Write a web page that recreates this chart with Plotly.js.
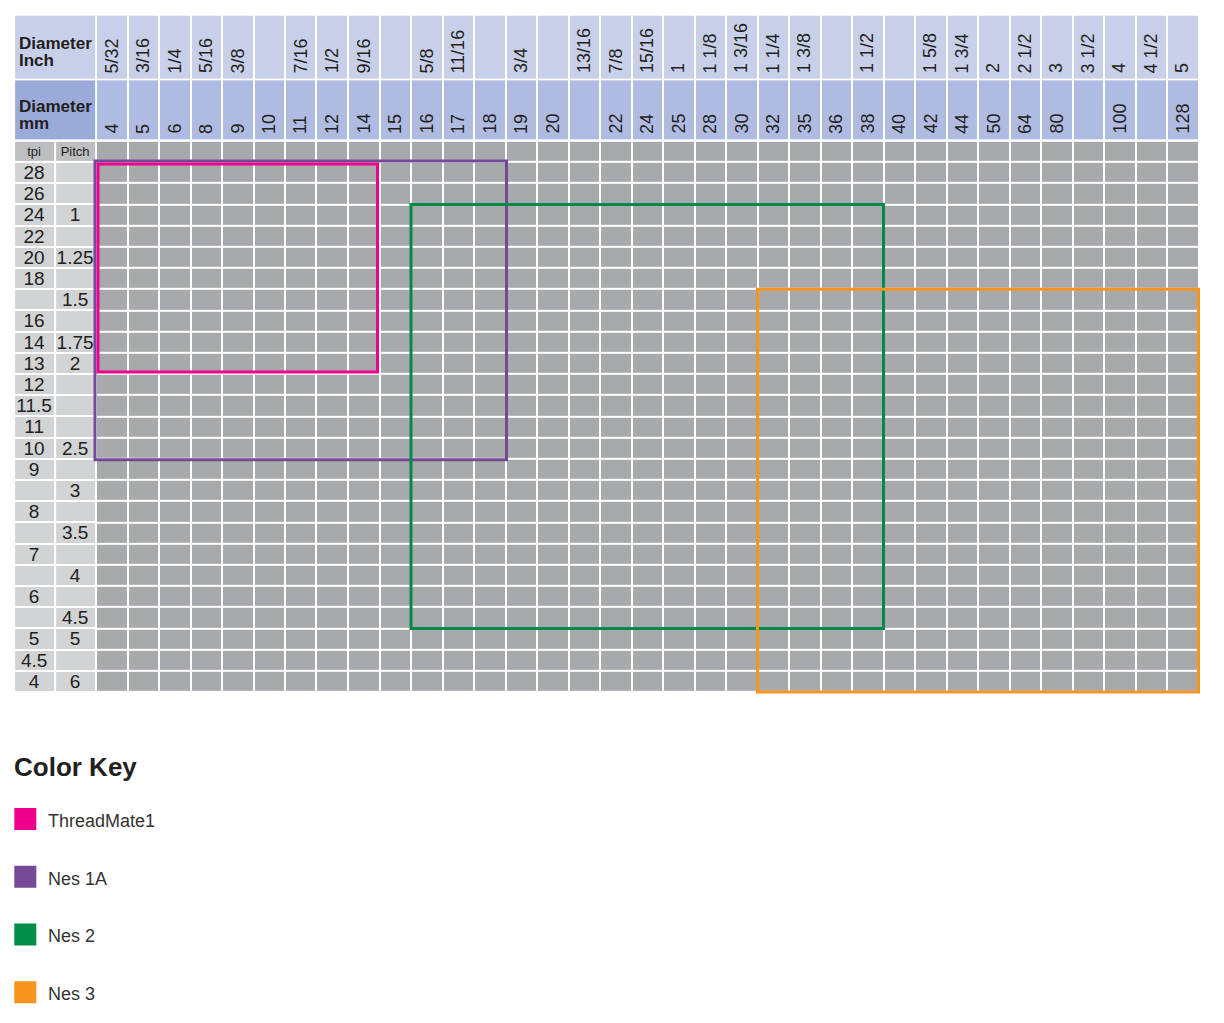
<!DOCTYPE html>
<html>
<head>
<meta charset="utf-8">
<script src="https://cdn.plot.ly/plotly-3.0.1.min.js"></script>
<style>body{margin:0;background:#fff}</style>
</head>
<body>
<div id="chart" style="width:1224px;height:1023px"></div>
<script>
// column headers: diameter in inch and mm ("" = no size in that unit)
const inchLabels = ["5/32","3/16","1/4","5/16","3/8","","7/16","1/2","9/16","","5/8","11/16","","3/4","","13/16","7/8","15/16","1","1 1/8","1 3/16","1 1/4","1 3/8","","1 1/2","","1 5/8","1 3/4","2","2 1/2","3","3 1/2","4","4 1/2","5"];
const mmLabels = ["4","5","6","8","9","10","11","12","14","15","16","17","18","19","20","","22","24","25","28","30","32","35","36","38","40","42","44","50","64","80","","100","","128"];

// rows: threads per inch and metric pitch
const tpiLabels = ["28","26","24","22","20","18","","16","14","13","12","11.5","11","10","9","","8","","7","","6","","5","4.5","4"];
const pitchLabels = ["","","1","","1.25","","1.5","","1.75","2","","","","2.5","","3","","3.5","","4","","4.5","5","","6"];

// range of each tool: first/last mm column and first/last row
const tools = ["ThreadMate1","Nes 1A","Nes 2","Nes 3"];
const toolColors = ["#ec008c","#744a96","#008c48","#f7941d"];
const mmFrom = ["4","4","16","32"];
const mmTo = ["14","18","38","128"];
const rowFrom = ["tpi 28","tpi 28","tpi 24","pitch 1.5"];
const rowTo = ["tpi 13","tpi 10","pitch 4.5","tpi 4"];

// ---- geometry / style ----
const W = 1224, H = 1023;
const colPx = 31.5, rowPx = 21.2;      // size of one grid cell
const gridLeft = 96, gridTop = 162;     // pixel of the first data cell corner
const xr = [-2.6, 35.15], yr = [25.2, -6.95];
const sideEdges = [-2.6, -1.3, 0];
const headEdges = [-6.95, -3.9, -1];
const insetPx = [2, -1, 0, 0];
const font = "Liberation Sans, Arial, sans-serif";
const ink = "#231f20";
const col = {cell:"#a7a9ac", side:"#d1d3d4", head:"#bcbec0", inch:"#c8cfe9", mm:"#afbbe1", mmHead:"#9aaad9"};

const nCols = mmLabels.length, nRows = tpiLabels.length;
const colEdges = Array.from({length: nCols + 1}, (_, i) => i);
const rowEdges = Array.from({length: nRows + 1}, (_, i) => i);

function block(x, y, color, text, size){
  let z = [];
  for (let r = 0; r < y.length - 1; r++) z.push(new Array(x.length - 1).fill(0));
  let t = {type:"heatmap", x:x, y:y, z:z, colorscale:[[0,color],[1,color]],
    showscale:false, xgap:2, ygap:2, hoverinfo:"skip"};
  if (text){
    t.text = text;
    t.texttemplate = "%{text}";
    t.textfont = {family:font, size:size, color:ink};
  }
  return t;
}

function rowIndex(key){
  let p = key.split(" ");
  return (p[0] === "tpi" ? tpiLabels : pitchLabels).indexOf(p[1]);
}

let data = [
  block([-2.6, 0], [headEdges[0], headEdges[1]], col.inch),
  block([-2.6, 0], [headEdges[1], headEdges[2]], col.mmHead),
  block(colEdges, [headEdges[0], headEdges[1]], col.inch),
  block(colEdges, [headEdges[1], headEdges[2]], col.mm),
  block(sideEdges, [-1, 0], col.head, [["tpi","Pitch"]], 13),
  block(sideEdges, rowEdges, col.side, tpiLabels.map((t, i) => [t, pitchLabels[i]]), 19),
  block(colEdges, [-1].concat(rowEdges), col.cell)
];

// color key
data.push({type:"scatter", mode:"markers", xaxis:"x2", yaxis:"y2",
  x:tools.map(() => 25.3), y:tools.map((t, i) => i),
  marker:{symbol:"square", size:22, color:toolColors, line:{width:0}},
  hoverinfo:"skip", showlegend:false});

let annotations = [];
inchLabels.forEach((t, i) => {
  if (t) annotations.push({x:i + 0.5, y:headEdges[1], text:t, textangle:-90, showarrow:false,
    xanchor:"center", yanchor:"bottom", yshift:4, font:{family:font, size:18, color:ink}});
});
mmLabels.forEach((t, i) => {
  if (t) annotations.push({x:i + 0.5, y:headEdges[2], text:t, textangle:-90, showarrow:false,
    xanchor:"center", yanchor:"bottom", yshift:5, font:{family:font, size:18, color:ink}});
});
[["Inch", 0], ["mm", 1]].forEach(([u, k]) => {
  let mid = (headEdges[k] + headEdges[k + 1]) / 2;
  [["Diameter", 3.5], [u, -13.5]].forEach(([t, s]) => {
    annotations.push({x:-2.55, y:mid, text:"<b>" + t + "</b>", showarrow:false, xanchor:"left",
      yanchor:"middle", xshift:1, yshift:s, font:{family:font, size:17, color:ink}});
  });
});
tools.forEach((t, i) => {
  annotations.push({xref:"x2", yref:"y2", x:46, y:i, text:t, showarrow:false, xanchor:"left",
    yanchor:"middle", yshift:-2, font:{family:font, size:18, color:"#333"}});
});
annotations.push({xref:"paper", yref:"paper", x:12 / W, y:1 - 767 / H, text:"<b>Color Key</b>",
  showarrow:false, xanchor:"left", yanchor:"middle", font:{family:font, size:26, color:ink}});

let shapes = tools.map((t, i) => {
  let dx = insetPx[i] / colPx, dy = insetPx[i] / rowPx;
  return {type:"rect", xref:"x", yref:"y", layer:"above",
    x0:mmLabels.indexOf(mmFrom[i]) + dx, x1:mmLabels.indexOf(mmTo[i]) + 1 - dx,
    y0:rowIndex(rowFrom[i]) + dy, y1:rowIndex(rowTo[i]) + 1 - dy,
    line:{color:toolColors[i], width:3}, fillcolor:"rgba(0,0,0,0)"};
});
// purple under pink
shapes = [shapes[1], shapes[0], shapes[2], shapes[3]];

const layout = {
  width:W, height:H, margin:{l:0, r:0, t:0, b:0},
  paper_bgcolor:"#fff", plot_bgcolor:"#fff", showlegend:false,
  xaxis:{domain:[(gridLeft + xr[0] * colPx) / W, (gridLeft + xr[1] * colPx) / W], range:xr, visible:false, fixedrange:true},
  yaxis:{domain:[1 - (gridTop + yr[0] * rowPx) / H, 1 - (gridTop + yr[1] * rowPx) / H], range:yr, visible:false, fixedrange:true},
  xaxis2:{domain:[0, 1], range:[0, W], anchor:"y2", visible:false, fixedrange:true},
  yaxis2:{domain:[1 - 1021 / H, 1 - 790.2 / H], range:[3.5, -0.5], anchor:"x2", visible:false, fixedrange:true},
  annotations:annotations, shapes:shapes
};

Plotly.newPlot("chart", data, layout, {staticPlot:true});
</script>
</body>
</html>
